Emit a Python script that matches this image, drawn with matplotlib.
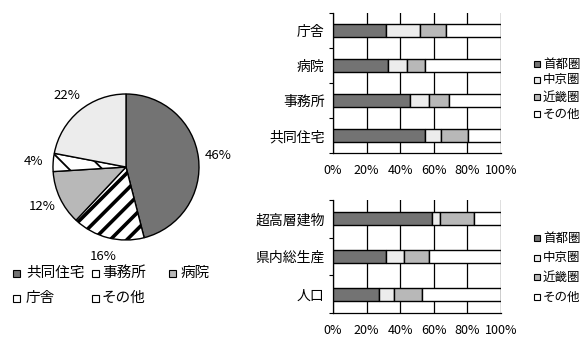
import numpy as np
import matplotlib
matplotlib.use("Agg")
import matplotlib.pyplot as plt
from matplotlib.patches import Rectangle

plt.rcParams['font.family'] = ['Noto Sans CJK JP', 'DejaVu Sans']

W, H = 582, 338

# 用途別の割合（円グラフ）
pie_labels = ['共同住宅', '事務所', '病院', '庁舎', 'その他']
pie_values = [46, 16, 12, 4, 22]

# 地域区分
regions = ['首都圏', '中京圏', '近畿圏', 'その他']

# 用途別の地域構成比（%）
use_cats = ['庁舎', '病院', '事務所', '共同住宅']
use_shutoken = [31.7, 32.7, 46.0, 55.0]
use_chukyo = [20.3, 11.3, 11.4, 9.4]
use_kinki = [15.0, 10.5, 11.9, 15.8]
use_other = [33.0, 45.5, 30.7, 19.8]

# 指標別の地域構成比（%）
stat_cats = ['超高層建物', '県内総生産', '人口']
stat_shutoken = [59.2, 31.3, 27.1]
stat_chukyo = [4.6, 10.7, 9.3]
stat_kinki = [20.4, 15.4, 16.5]
stat_other = [15.8, 42.6, 47.1]

DARK = '#737373'
MID = '#b8b8b8'
LIGHT = '#ececec'
WHITE = '#ffffff'
region_colors = [DARK, LIGHT, MID, WHITE]

fig = plt.figure(figsize=(W / 100, H / 100), dpi=100)
fig.patch.set_facecolor('white')


def px_axes(left, top, right, bottom):
    return fig.add_axes([left / W, 1 - bottom / H, (right - left) / W, (bottom - top) / H])


def legend_item(x, tx, y, label, color, size=10, s=7):
    fig.add_artist(Rectangle((x / W, 1 - (y + s / 2) / H), s / W, s / H,
                             transform=fig.transFigure, facecolor=color,
                             edgecolor='black', linewidth=0.8))
    fig.text(tx / W, 1 - y / H, label, fontsize=size, ha='left', va='center')


# ---- 円グラフ ----
ax_pie = px_axes(53, 94, 199, 240)
wedges, _, autotexts = ax_pie.pie(
    pie_values, startangle=90, counterclock=False, radius=1,
    colors=[DARK, WHITE, MID, WHITE, LIGHT],
    wedgeprops=dict(edgecolor='black', linewidth=1.0),
    autopct=lambda p: f'{p:.0f}%', pctdistance=1.27,
    textprops=dict(fontsize=9.5))
wedges[1].set_hatch('//')
wedges[3].set_hatch('\\')
for w, lw in ((wedges[1], 2.6), (wedges[3], 1.3)):
    if hasattr(w, 'set_hatch_linewidth'):
        w.set_hatch_linewidth(lw)
ax_pie.set_xlim(-1, 1)
ax_pie.set_ylim(-1, 1)
ax_pie.axis('off')

pie_colors_legend = [DARK, WHITE, MID, WHITE, WHITE]
pie_legend_pos = [(13, 26, 273), (92, 102, 273), (169, 181, 273),
                  (13, 26, 298), (92, 102, 298)]
for (x, tx, y), lab, c in zip(pie_legend_pos, pie_labels, pie_colors_legend):
    legend_item(x, tx, y, lab, c, size=10.5)


# ---- 帯グラフ ----
def stacked(ax, cats, series):
    n = len(cats)
    y = np.arange(n)
    left = np.zeros(n)
    for vals, c in zip(series, region_colors):
        ax.barh(y, vals, left=left, height=0.35, color=c,
                edgecolor='black', linewidth=1.0, zorder=3)
        left += np.array(vals)
    ax.set_xlim(0, 100)
    ax.set_ylim(n - 0.5, -0.5)
    ticks = [0, 20, 40, 60, 80, 100]
    ax.set_xticks(ticks)
    ax.set_xticklabels([f'{t}%' for t in ticks], fontsize=9)
    ax.tick_params(axis='x', length=0, pad=8)
    ax.xaxis.grid(True, color='black', linewidth=0.9)
    ax.set_axisbelow(True)
    ax.set_yticks(np.arange(n + 1) - 0.5)
    ax.set_yticklabels([])
    ax.tick_params(axis='y', which='major', length=3, width=0.8)
    ax.set_yticks(y, minor=True)
    ax.set_yticklabels(cats, minor=True, fontsize=10)
    ax.tick_params(axis='y', which='minor', length=0, pad=6)
    for side in ('top', 'right'):
        ax.spines[side].set_visible(False)
    for side in ('left', 'bottom'):
        ax.spines[side].set_color('black')
        ax.spines[side].set_linewidth(0.9)


ax_use = px_axes(333, 13, 501, 153)
stacked(ax_use, use_cats, [use_shutoken, use_chukyo, use_kinki, use_other])

ax_stat = px_axes(333, 200, 501, 313)
stacked(ax_stat, stat_cats, [stat_shutoken, stat_chukyo, stat_kinki, stat_other])

for ys in ([64, 80, 97, 114], [238, 258, 277, 297]):
    for y, lab, c in zip(ys, regions, region_colors):
        legend_item(534, 543, y, lab, c, size=9, s=6)

fig.savefig('out.png', dpi=100, facecolor='white')
